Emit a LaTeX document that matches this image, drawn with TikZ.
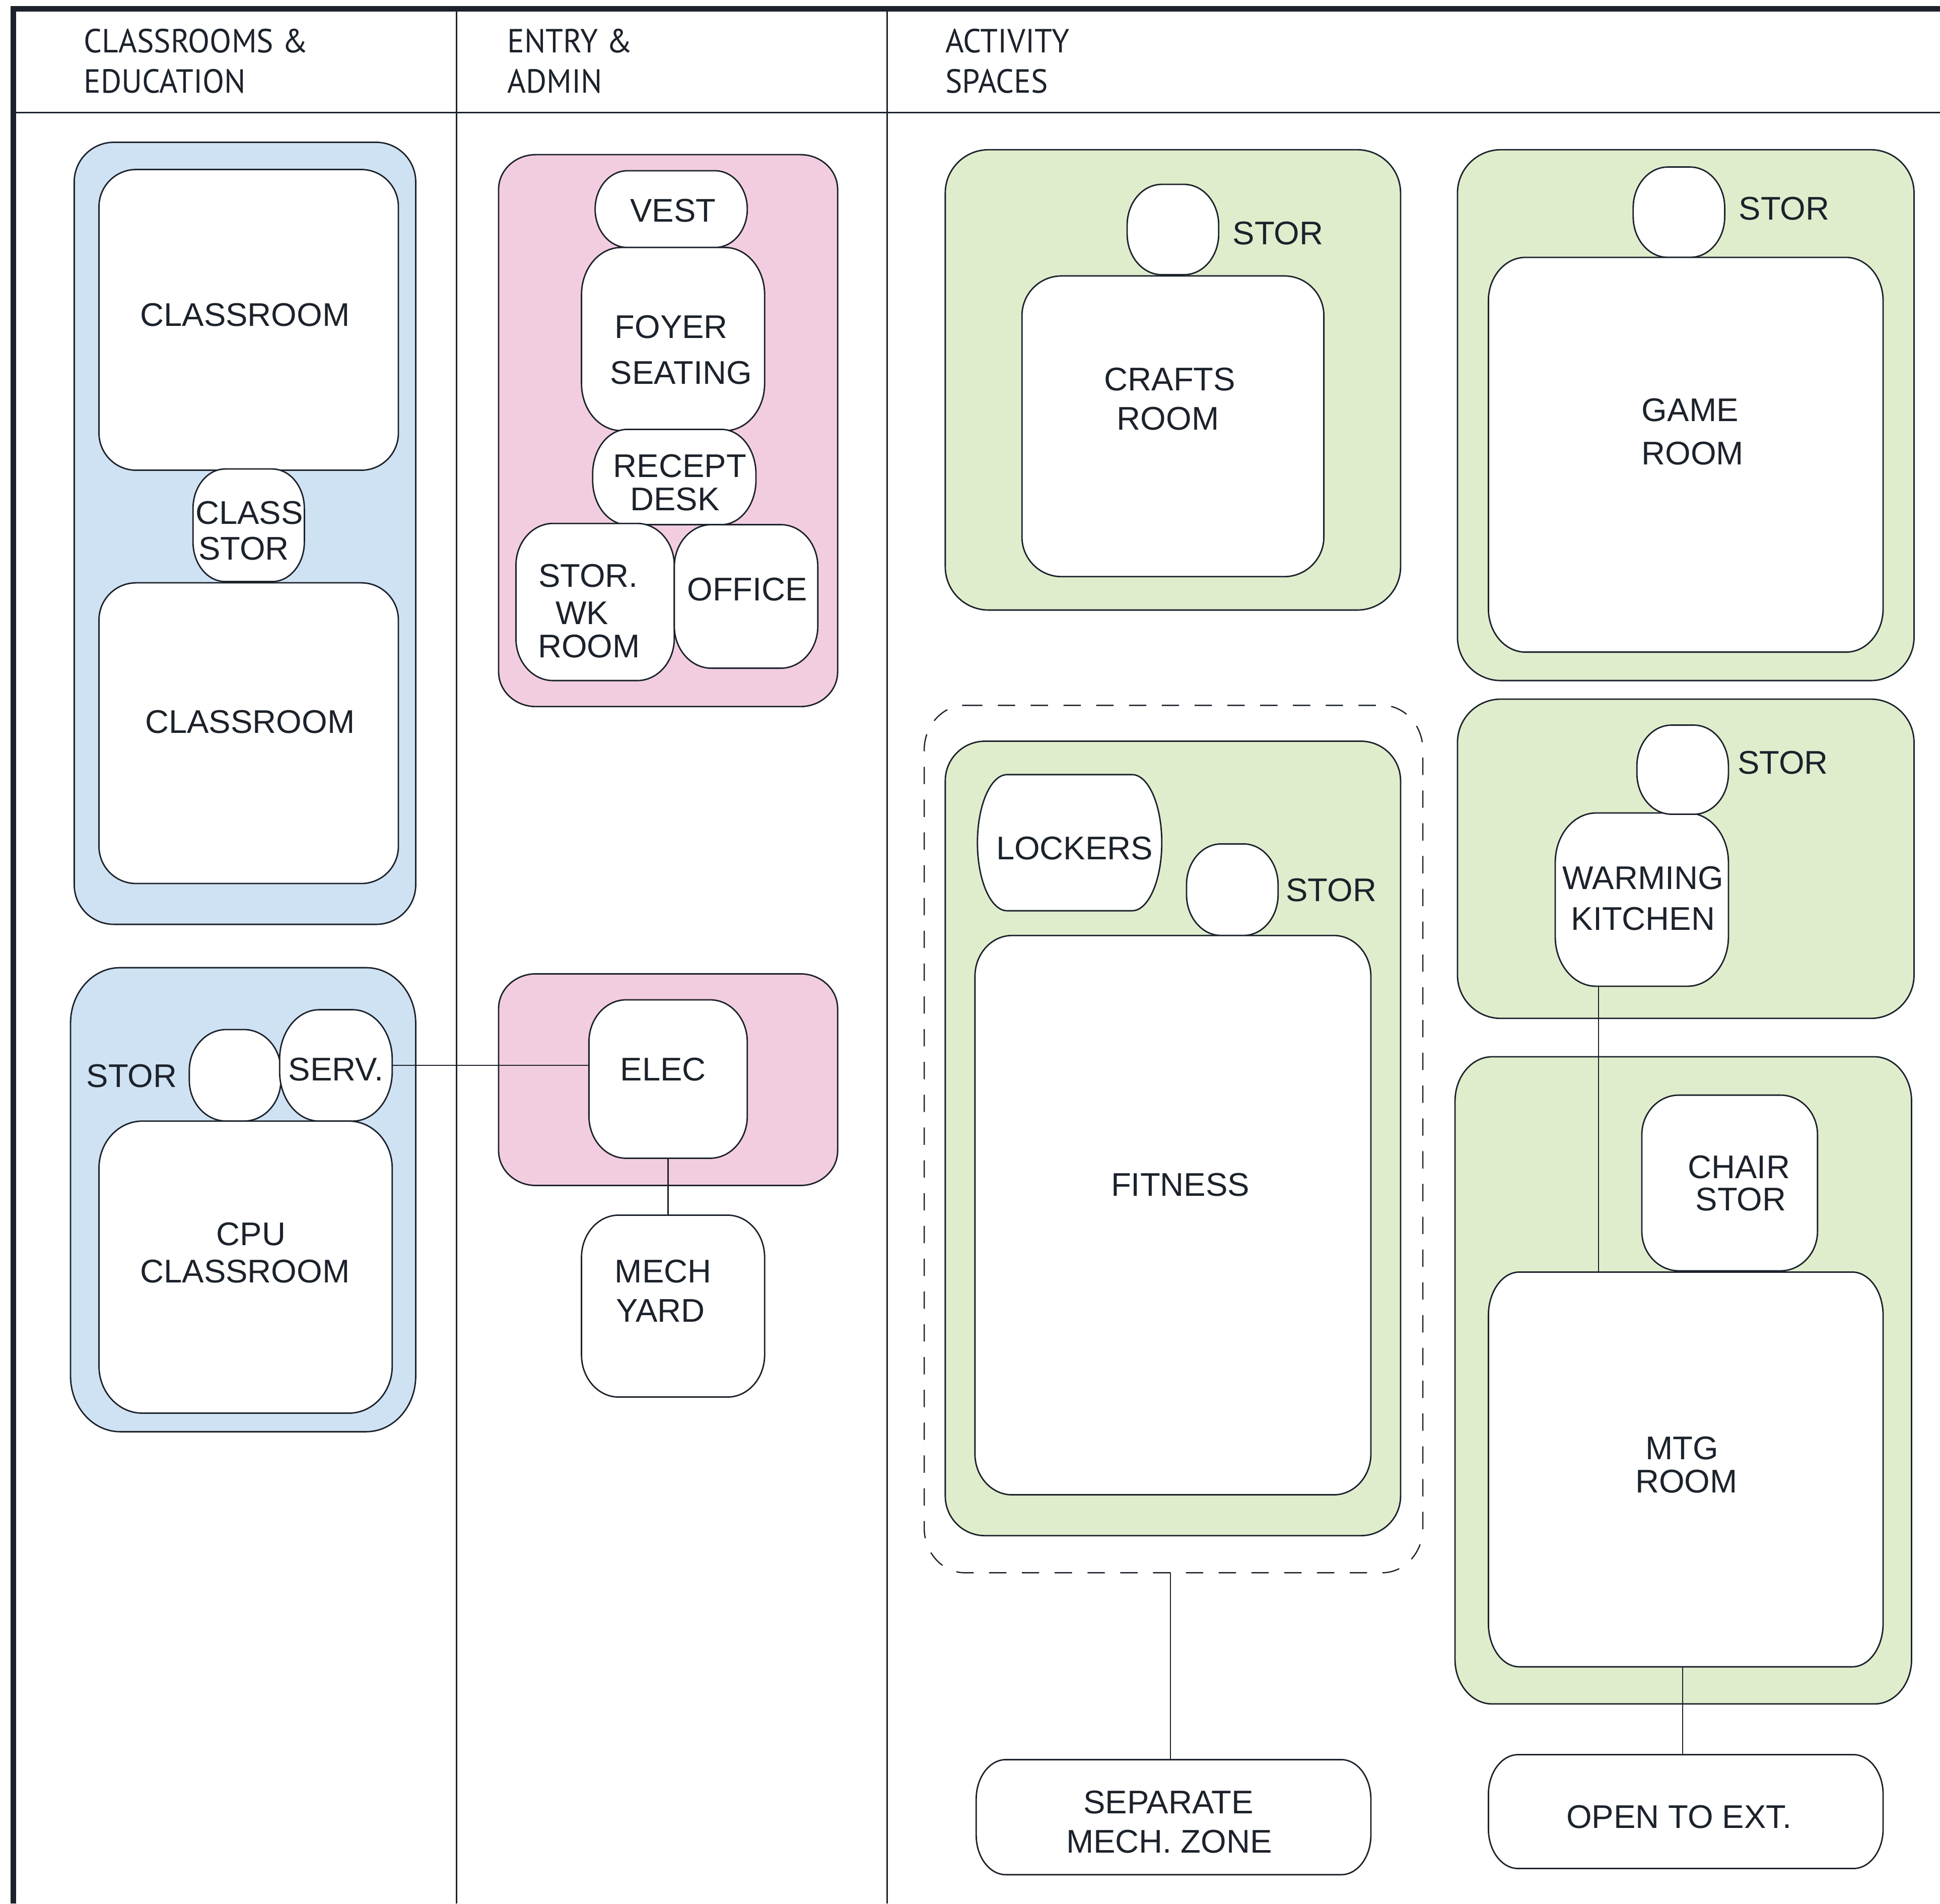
\documentclass[tikz,border=0pt]{standalone}
\usepackage{fontspec}
\setmainfont{Liberation Sans}
\newfontfamily\hdrfont[FakeStretch=0.95]{PT Sans}
\definecolor{ink}{HTML}{1C222B}
\definecolor{bluef}{HTML}{CFE2F3}
\definecolor{pinkf}{HTML}{F2CDE0}
\definecolor{greenf}{HTML}{DFEDCD}
% #1 name, #2 x1, #3 y1, #4 x2, #5 y2, #6 rx, #7 ry, #8 style
\newcommand\rbox[8]{%
  \path[#8] (#2+#6,#3) -- (#4-#6,#3)
    arc[start angle=270,end angle=360,x radius=#6,y radius=#7]
    -- (#4,#5-#7)
    arc[start angle=0,end angle=90,x radius=#6,y radius=#7]
    -- (#2+#6,#5)
    arc[start angle=90,end angle=180,x radius=#6,y radius=#7]
    -- (#2,#3+#7)
    arc[start angle=180,end angle=270,x radius=#6,y radius=#7]
    -- cycle;
  \node[inner sep=0pt,outer sep=0pt,minimum width={#4-#2},minimum height={#5-#3}] (#1) at ({(#2+#4)/2},{(#3+#5)/2}) {};%
}
\newcommand\lbl[4]{\node[lab] (#1) at (#2,#3+9.5) {#4};}
\newcommand\hdr[4]{\node[hdrtxt] (#1) at (#2,#3) {#4};}
\begin{document}
\begin{tikzpicture}[x=1pt,y=-1pt,
  outl/.style={draw=ink,line width=1.15pt},
  contblue/.style={outl,fill=bluef},
  contpink/.style={outl,fill=pinkf},
  contgreen/.style={outl,fill=greenf},
  room/.style={outl,fill=white},
  dashbox/.style={draw=ink,line width=1pt,dash pattern=on 14pt off 12.5pt},
  lab/.style={font=\fontsize{26.5}{30}\selectfont,text=ink,inner sep=0pt,anchor=base},
  hdrtxt/.style={font=\hdrfont\fontsize{27}{30}\selectfont,text=ink,inner sep=0pt,anchor=base west},
  conn/.style={draw=ink,line width=0.9pt},
  frame/.style={draw=ink}
]
\useasboundingbox (0,0) rectangle (1568,1538.4);
% frame and columns
\draw[frame,line width=4.5pt] (8.55,7.25) -- (1568,7.25);
\draw[frame,line width=4.5pt] (10.8,5) -- (10.8,1538.4);
\draw[frame,line width=1.4pt] (10.8,91) -- (1568,91);
\draw[frame,line width=1.1pt] (369,7) -- (369,1538.4);
\draw[frame,line width=1.1pt] (717,7) -- (717,1538.4);
% headers
\hdr{h1a}{67.5}{42.7}{CLASSROOMS \&}
\hdr{h1b}{67.5}{75.3}{EDUCATION}
\hdr{h2a}{410}{42.7}{ENTRY \&}
\hdr{h2b}{410}{75.3}{ADMIN}
\hdr{h3a}{764}{42.7}{ACTIVITY}
\hdr{h3b}{764}{75.3}{SPACES}
% ---------- column 1
\rbox{bc1}{60}{115}{336}{747}{32}{32}{contblue}
\rbox{cr1}{80}{137}{322}{380}{30}{30}{room}
\rbox{cstor}{156}{379}{246}{470}{26}{32}{room}
\rbox{cr2}{80}{471}{322}{714}{30}{30}{room}
\rbox{bc2}{57}{782}{336}{1157}{40}{45}{contblue}
\rbox{stor1}{153}{832}{227}{906}{30}{33}{room}
\rbox{serv}{226}{816}{317}{906}{32}{40}{room}
\rbox{cpu}{80}{906}{317}{1142}{35}{38}{room}
% ---------- column 2
\rbox{pc1}{403}{125}{677}{571}{30}{28}{contpink}
\rbox{vest}{481}{138}{604}{200}{26}{31}{room}
\rbox{foyer}{470}{200}{618}{348}{32}{38}{room}
\rbox{recept}{479}{347}{611}{424}{28}{36}{room}
\rbox{storwk}{417}{423}{545}{550}{30}{34}{room}
\rbox{office}{545}{424}{661}{540}{30}{34}{room}
\rbox{pc2}{403}{787}{677}{958}{30}{28}{contpink}
\rbox{elec}{476}{808}{604}{936}{30}{34}{room}
\rbox{mech}{470}{982}{618}{1129}{30}{34}{room}
% ---------- column 3
\rbox{gc1}{764}{121}{1132}{493}{35}{35}{contgreen}
\rbox{stor2}{911}{149}{985}{222}{28}{33}{room}
\rbox{crafts}{826}{223}{1070}{466}{32}{32}{room}
\rbox{gc2}{1178}{121}{1547}{550}{35}{35}{contgreen}
\rbox{stor3}{1320}{135}{1394}{208}{28}{33}{room}
\rbox{game}{1203}{208}{1522}{527}{30}{35}{room}
\rbox{dash}{747}{570}{1150}{1271}{33}{36}{dashbox}
\rbox{gc3}{764}{599}{1132}{1241}{32}{32}{contgreen}
\rbox{lockers}{790}{626}{939}{736}{24}{55}{room}
\rbox{stor4}{959}{682}{1033}{756}{28}{33}{room}
\rbox{fitness}{788}{756}{1108}{1208}{30}{33}{room}
\rbox{gc4}{1178}{565}{1547}{823}{35}{35}{contgreen}
\rbox{wk}{1257}{657}{1397}{797}{33}{40}{room}
\rbox{stor5}{1323}{586}{1397}{658}{28}{33}{room}
\rbox{gc5}{1176}{854}{1545}{1377}{30}{36}{contgreen}
\rbox{chair}{1327}{885}{1469}{1027}{30}{32}{room}
\rbox{mtg}{1203}{1028}{1522}{1347}{25}{35}{room}
\rbox{sep}{789}{1422}{1108}{1515}{24}{32}{room}
\rbox{open}{1203}{1418}{1522}{1510}{24}{32}{room}
% ---------- connectors
\draw[conn] (serv.east) -- (serv.east -| elec.west);
\draw[conn] (elec.south) -- (elec.south |- mech.north);
\draw[conn] ([xshift=35pt]wk.south west) -- ([xshift=35pt]wk.south west |- mtg.north);
\draw[conn] ([xshift=-2.5pt]dash.south) -- ([xshift=-2.5pt]dash.south |- sep.north);
\draw[conn] ([xshift=-2.5pt]mtg.south) -- ([xshift=-2.5pt]mtg.south |- open.north);
% ---------- labels
\lbl{lcr1}{198}{254}{CLASSROOM}
\lbl{lcs1}{201.5}{414}{CLASS}
\lbl{lcs2}{197}{443}{STOR}
\lbl{lcr2}{202}{583}{CLASSROOM}
\lbl{lst1}{106.5}{869}{STOR}
\lbl{lserv}{271.5}{864}{SERV.}
\lbl{lcpu1}{203}{997}{CPU}
\lbl{lcpu2}{198}{1027}{CLASSROOM}
\lbl{lvest}{544}{170}{VEST}
\lbl{lfoy1}{542.5}{264}{FOYER}
\lbl{lfoy2}{550.5}{301}{SEATING}
\lbl{lrec1}{549.5}{376}{RECEPT}
\lbl{lrec2}{545.5}{403}{DESK}
\lbl{lwk1}{475.5}{465}{STOR.}
\lbl{lwk2}{470.5}{495}{WK}
\lbl{lwk3}{476}{522}{ROOM}
\lbl{loff}{604}{476}{OFFICE}
\lbl{lelec}{536}{864}{ELEC}
\lbl{lmech1}{536}{1027}{MECH}
\lbl{lmech2}{534}{1059}{YARD}
\lbl{ls2}{1033}{188}{STOR}
\lbl{lcrf1}{945.5}{306}{CRAFTS}
\lbl{lcrf2}{944}{338}{ROOM}
\lbl{ls3}{1442}{168}{STOR}
\lbl{lgm1}{1366}{331}{GAME}
\lbl{lgm2}{1368}{366}{ROOM}
\lbl{llock}{868.5}{685}{LOCKERS}
\lbl{ls4}{1076}{719}{STOR}
\lbl{lfit}{954}{957}{FITNESS}
\lbl{ls5}{1441}{616}{STOR}
\lbl{lkit1}{1328}{709}{WARMING}
\lbl{lkit2}{1328}{742}{KITCHEN}
\lbl{lch1}{1405.5}{943}{CHAIR}
\lbl{lch2}{1407}{969}{STOR}
\lbl{lmtg1}{1359.5}{1170}{MTG}
\lbl{lmtg2}{1363}{1197}{ROOM}
\lbl{lsep1}{944.5}{1456}{SEPARATE}
\lbl{lsep2}{945}{1488}{MECH. ZONE}
\lbl{lopen}{1357}{1468}{OPEN TO EXT.}
\end{tikzpicture}
\end{document}
